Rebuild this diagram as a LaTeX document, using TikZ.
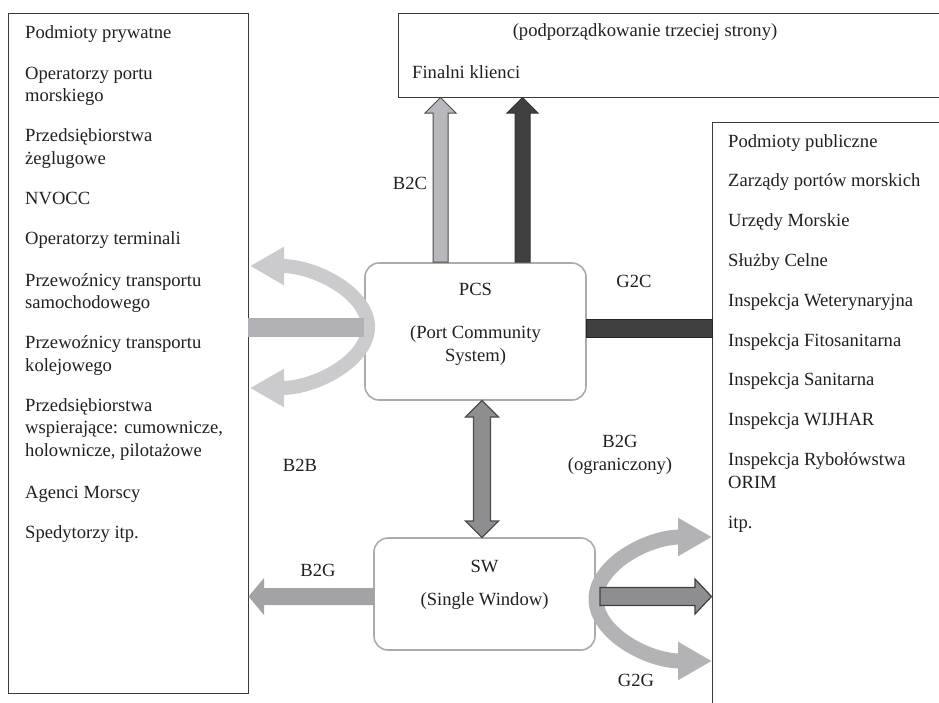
\documentclass[tikz,border=0pt]{standalone}
\usepackage{fontspec}
\setmainfont{Liberation Serif}
\usetikzlibrary{arrows.meta,calc}
\definecolor{txt}{HTML}{231F20}
\definecolor{boxline}{HTML}{3A3A3A}
\definecolor{softline}{HTML}{ABABAB}
\definecolor{bbcurve}{HTML}{CBCBCD}
\definecolor{bbbar}{HTML}{B1B1B5}
\definecolor{lightarrow}{HTML}{B8B8BC}
\definecolor{darkarrow}{HTML}{404040}
\definecolor{midarrow}{HTML}{8E8E90}
\definecolor{bgarrow}{HTML}{A3A3A6}
\definecolor{ggcurve}{HTML}{B3B3B5}
\definecolor{outl}{HTML}{4D4D4D}
\begin{document}
\begin{tikzpicture}[x=1pt,y=-1pt,
  every node/.style={font=\fontsize{18.6}{22.5}\selectfont, text=txt, inner sep=0pt},
  bigbox/.style={draw=boxline, line width=1pt, fill=white},
  sysbox/.style={draw=softline, line width=1.6pt, rounded corners=14pt, fill=white},
  item/.style={anchor=base west, align=left},
  lbl/.style={anchor=base, align=center},
]
\clip (0,0) rectangle (939,702);
\useasboundingbox (0,0) rectangle (939,702);

% big boxes
\draw[bigbox] (8,13) rectangle (248,693);
\coordinate (privE) at (248,350);
\draw[bigbox] (398,13) rectangle (945,97);
\draw[bigbox] (712,122) rectangle (945,720);

% system boxes
\node[sysbox, minimum width=221pt, minimum height=137pt] (pcs) at (475.5,331.5) {};
\node[sysbox, minimum width=221pt, minimum height=112pt] (sw) at (484.5,594) {};

% left texts (base = baseline of last line)
\node[item] (p1) at (25,38) {Podmioty prywatne};
\node[item] (p2) at (25,101.5) {Operatorzy portu\\morskiego};
\node[item] (p3) at (25,164) {Przedsiębiorstwa\\żeglugowe};
\node[item] (p4) at (25,204) {NVOCC};
\node[item] (p5) at (25,244.5) {Operatorzy terminali};
\node[item] (p6) at (25,308.5) {Przewoźnicy transportu\\samochodowego};
\node[item] (p7) at (25,371) {Przewoźnicy transportu\\kolejowego};
\node[item] (p8) at (25,456) {Przedsiębiorstwa\\wspierające: cumownicze,\\holownicze, pilotażowe};
\node[item] (p9) at (25,498) {Agenci Morscy};
\node[item] (p10) at (25,538.5) {Spedytorzy itp.};

% right texts
\node[item] (g1) at (728,147) {Podmioty publiczne};
\node[item] (g2) at (728,186.8) {Zarządy portów morskich};
\node[item] (g3) at (728,226.6) {Urzędy Morskie};
\node[item] (g4) at (728,266.4) {Służby Celne};
\node[item] (g5) at (728,306.2) {Inspekcja Weterynaryjna};
\node[item] (g6) at (728,346) {Inspekcja Fitosanitarna};
\node[item] (g7) at (728,385.8) {Inspekcja Sanitarna};
\node[item] (g8) at (728,425.6) {Inspekcja WIJHAR};
\node[item] (g9) at (728,488) {Inspekcja Rybołówstwa\\ORIM};
\node[item] (g10) at (728,528) {itp.};

% top texts
\node[lbl] (t1) at (645,36) {(podporządkowanie trzeciej strony)};
\node[item] (t2) at (412,78) {Finalni klienci};

% system texts
\node[lbl] (pcs1) at (475.5,295) {PCS};
\node[lbl] (pcs2) at (475.5,361) {(Port Community\\System)};
\node[lbl] (sw1) at (484.5,572) {SW};
\node[lbl] (sw2) at (484.5,605) {(Single Window)};

% connector labels
\node[lbl] (lb2c) at (410,189) {B2C};
\node[lbl] (lg2c) at (634,287) {G2C};
\node[lbl] (lb2b) at (300,471) {B2B};
\node[lbl] (lb2g) at (620,470) {B2G\\(ograniczony)};
\node[lbl] (lb2g2) at (318,576) {B2G};
\node[lbl] (lg2g) at (636,686) {G2G};

% B2B curved band
\coordinate (bbT) at (250,266);
\coordinate (bbB) at (250,388);
\draw[bbcurve, line width=14pt, {Triangle[length=34pt,width=36pt]}-{Triangle[length=34pt,width=36pt]}]
  (bbT) .. controls (315.2,266) and (368,293.3) .. (368,327)
        .. controls (368,360.7) and (315.2,388) .. (bbB);
% B2B bar
\fill[bbbar] (privE |- 0,318) rectangle (pcs.west |- 0,337);

% B2C arrow (light)
\filldraw[fill=lightarrow, draw=outl, line width=1pt]
  (433,262) -- (433,113) -- (425,113) -- (440.5,97.5) -- (456,113) -- (448,113) -- (448,262) -- cycle;
% G2C up arrow (dark)
\filldraw[fill=darkarrow, draw=darkarrow!80!black, line width=1pt]
  (515,262) -- (515,113) -- (507,113) -- (522.5,97.5) -- (538,113) -- (530,113) -- (530,262) -- cycle;
% G2C bar
\filldraw[fill=darkarrow, draw=black!85, line width=1pt] (pcs.east |- 0,319) rectangle (712,337);

% PCS <-> SW double arrow
\filldraw[fill=midarrow, draw=outl, line width=1.2pt]
  (482,400.5) -- (498.5,417) -- (490.5,417) -- (490.5,521) -- (498.5,521) -- (482,537.5)
  -- (465.5,521) -- (473.5,521) -- (473.5,417) -- (465.5,417) -- cycle;

% B2G left arrow
\fill[bgarrow] (374,588) -- (264,588) -- (264,578) -- (248.5,596.5) -- (264,615) -- (264,605) -- (374,605) -- cycle;

% G2G curved band
\coordinate (ggT) at (712,537);
\coordinate (ggB) at (712,661);
\draw[ggcurve, line width=15pt, {Triangle[length=34pt,width=36pt]}-{Triangle[length=34pt,width=36pt]}]
  (ggT) .. controls (647.9,537) and (596,564.8) .. (596,599)
        .. controls (596,633.2) and (647.9,661) .. (ggB);
% SW -> public arrow
\filldraw[fill=midarrow, draw=darkarrow, line width=1.2pt]
  (600,587.5) -- (695,587.5) -- (695,579) -- (711.5,596.5) -- (695,614) -- (695,605.5) -- (600,605.5) -- cycle;
\end{tikzpicture}
\end{document}
